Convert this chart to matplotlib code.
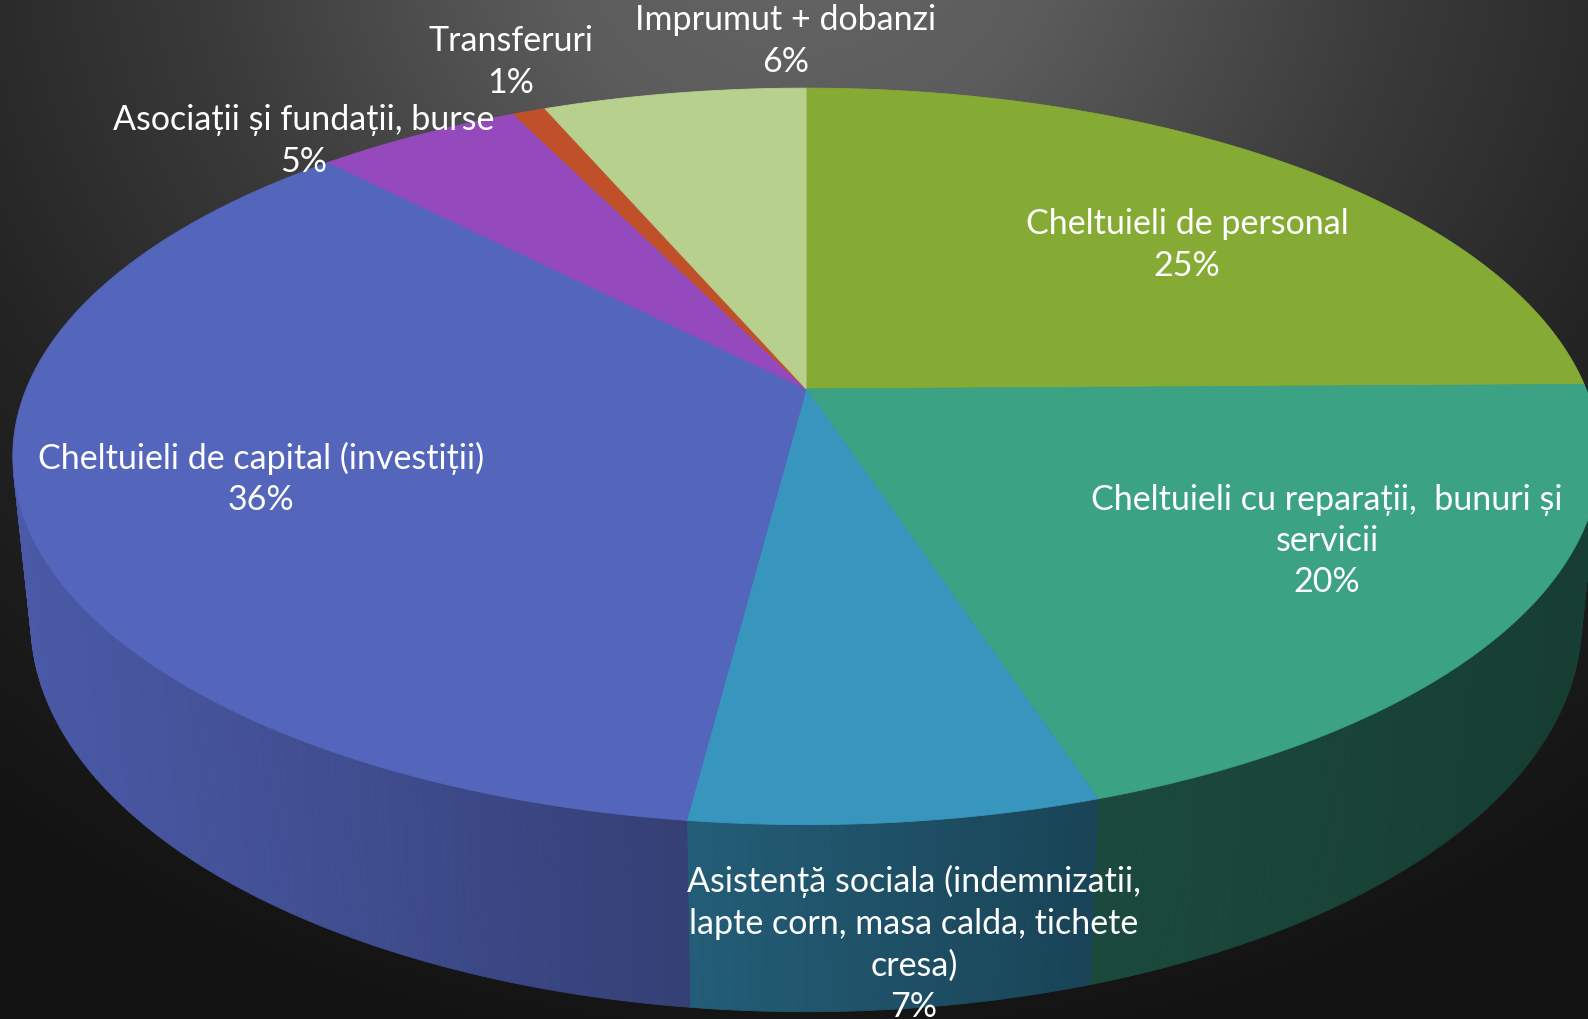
import numpy as np
import matplotlib
matplotlib.use("Agg")
import matplotlib.pyplot as plt
from matplotlib.patches import Polygon

# data
categories = ["Cheltuieli de personal",
              "Cheltuieli cu reparații,  bunuri și\nservicii",
              "Asistență sociala (indemnizatii,\nlapte corn, masa calda, tichete\ncresa)",
              "Cheltuieli de capital (investiții)",
              "Asociații și fundații, burse",
              "Transferuri",
              "Imprumut + dobanzi"]
values = [24.8, 20.2, 7.0, 35.8, 5.0, 0.8, 6.4]
colors = ["#86AB35", "#3BA284", "#3895BE", "#5465BC", "#944ABC", "#C0502A", "#B7D08D"]
# label centres in pixels (layout)
label_pos = [(1187, 245), (1327, 541), (914, 944), (261, 479), (304, 141), (511, 62), (786, 41)]

W, H = 1588, 1020
sc = W / 1568
CX, CY, S = 796 * sc, 385 * sc, 3741 * sc
DIST, ELEV, DEPTH = 4.858, np.radians(27.15), 0.2405


def project(x, y, z):
    ce, se = np.cos(ELEV), np.sin(ELEV)
    vy = y + DIST * ce
    vz = z - DIST * se
    depth = vy * ce - vz * se
    return CX + S * x / depth, CY - S * (vy * se + vz * ce) / depth


def shade(X):
    return np.interp(X, [0, 680, 1080, 1588], [0.9, 0.63, 0.46, 0.38])


fig = plt.figure(figsize=(W / 100, H / 100), dpi=100)
ax = fig.add_axes([0, 0, 1, 1])
ax.set_xlim(0, W)
ax.set_ylim(H, 0)
ax.axis("off")

# background radial gradient
yy, xx = np.mgrid[0:H:2, 0:W:2]
r = np.hypot(xx - 800, (yy + 80) / 0.9)
g = np.interp(r, [0, 250, 600, 900, 1300], [0x66, 0x5c, 0x3a, 0x24, 0x12]) / 255
ax.imshow(np.dstack([g, g, g]), extent=(0, W, H, 0), zorder=0, interpolation="bilinear")

fracs = np.array(values) / sum(values)
bounds = np.concatenate([[0], np.cumsum(fracs)]) * 2 * np.pi

# side walls
for i, col in enumerate(colors):
    th = np.arange(bounds[i], bounds[i + 1], np.radians(0.5))
    th = np.append(th, bounds[i + 1])
    rgb = np.array(matplotlib.colors.to_rgb(col))
    for a0, a1 in zip(th[:-1], th[1:]):
        if np.cos((a0 + a1) / 2) > -1 / (DIST * np.cos(ELEV)):
            continue
        xt0, yt0 = project(np.sin(a0), np.cos(a0), 0)
        xt1, yt1 = project(np.sin(a1), np.cos(a1), 0)
        xb1, yb1 = project(np.sin(a1), np.cos(a1), -DEPTH)
        xb0, yb0 = project(np.sin(a0), np.cos(a0), -DEPTH)
        c = rgb * shade((xt0 + xt1) / 2)
        ax.add_patch(Polygon([(xt0, yt0), (xt1, yt1), (xb1, yb1), (xb0, yb0)],
                             closed=True, fc=c, ec=c, lw=0.6, zorder=2))

# top face
for i, col in enumerate(colors):
    th = np.linspace(bounds[i], bounds[i + 1], max(3, int(np.degrees(bounds[i + 1] - bounds[i]) * 4)))
    px, py = project(np.sin(th), np.cos(th), 0 * th)
    pts = [(CX, CY)] + list(zip(px, py))
    ax.add_patch(Polygon(pts, closed=True, fc=col, ec=col, lw=0.6, zorder=3))

for cat, v, (lx, ly) in zip(categories, values, label_pos):
    ax.text(lx, ly, f"{cat}\n{round(v)}%", ha="center", va="center", color="white",
            fontsize=24.5, family=["Lato", "DejaVu Sans"], linespacing=1.36, zorder=5)

fig.savefig("out.png", dpi=100)
